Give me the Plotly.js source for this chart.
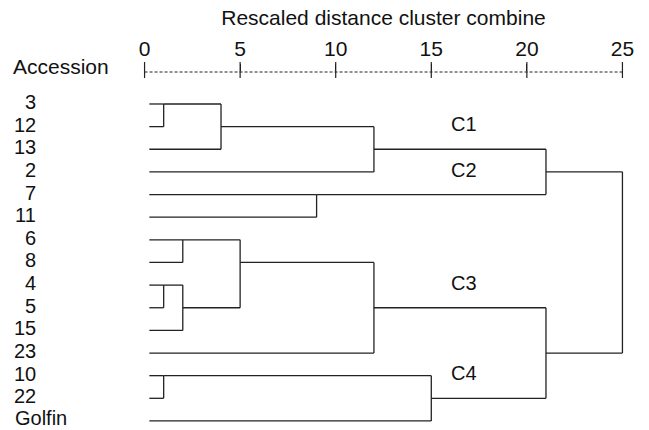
<!DOCTYPE html>
<html><head><meta charset="utf-8">
<script src="https://cdn.plot.ly/plotly-3.0.1.min.js"></script>
<style>html,body{margin:0;padding:0;background:#fff}#chart{width:649px;height:430px}</style>
</head><body><div id="chart"></div>
<script>
// ---- data ----
const leaves = ['3','12','13','2','7','11','6','8','4','5','15','23','10','22','Golfin'];
// agglomeration schedule: merge i creates node 'm'+(i+1)
const mergeA = ['3','4','10','6','m2','m1','m4','7','m6','m7','m3','m9','m10','m12'];
const mergeB = ['12','5','22','8','15','13','m5','11','2','23','Golfin','m8','m11','m13'];
const mergeHeight = [1,1,1,2,2,4,5,9,12,12,15,21,21,25];
const tickValues = [0,5,10,15,20,25];
const clusterNames = ['C1','C2','C3','C4'];
const clusterLeaf = ['12','2','4','10'];

// ---- build dendrogram ----
const FONT = 'Liberation Sans, Arial, Helvetica, sans-serif';
const FS = 21;
const LEAF_FS = 20;
const TXT = '#111';
const LINE = '#222';
const LEAF_START = 0.25;
const node = {};
leaves.forEach((l, i) => node[l] = {x: LEAF_START, y: i});
const xs = [], ys = [];
mergeHeight.forEach((h, i) => {
  const a = node[mergeA[i]], b = node[mergeB[i]];
  xs.push(a.x, h, null, b.x, h, null, h, h, null);
  ys.push(a.y, a.y, null, b.y, b.y, null, a.y, b.y, null);
  node['m' + (i + 1)] = {x: h, y: Math.floor((a.y + b.y) / 2)};
});

const W = 649, H = 430, L = 135, R = 17, T = 72, B = 0;
const pw = W - L - R;
const px2paper = p => (p - L) / pw;

const annotations = [];
leaves.forEach((l, i) => {
  const numeric = /^\d+$/.test(l);
  annotations.push({
    text: l, xref: 'paper', yref: 'y', y: i,
    x: numeric ? px2paper(38) : px2paper(13),
    xanchor: numeric ? 'right' : 'left', yanchor: 'middle',
    yshift: numeric ? 2 : 3,
    showarrow: false, font: {family: FONT, size: LEAF_FS, color: TXT}
  });
});
clusterNames.forEach((c, i) => {
  annotations.push({
    text: c, xref: 'x', yref: 'y', x: 16.7, y: leaves.indexOf(clusterLeaf[i]) - 0.1,
    xanchor: 'center', yanchor: 'middle', showarrow: false,
    font: {family: FONT, size: LEAF_FS, color: TXT}
  });
});
annotations.push({
  text: 'Accession', xref: 'paper', yref: 'paper', x: px2paper(11), y: 1,
  xanchor: 'left', yanchor: 'middle', yshift: 6, showarrow: false,
  font: {family: FONT, size: FS, color: TXT}
});

const shapes = [{
  type: 'line', xref: 'x', yref: 'paper', x0: tickValues[0], x1: tickValues[tickValues.length - 1],
  y0: 1, y1: 1, line: {color: LINE, width: 1, dash: '3px,2px'}
}];
tickValues.forEach(v => shapes.push({
  type: 'line', xref: 'x', yref: 'paper', ysizemode: 'pixel', yanchor: 1,
  x0: v, x1: v, y0: -6, y1: 10, line: {color: LINE, width: 1.2}
}));

const trace = {
  x: xs, y: ys, type: 'scatter', mode: 'lines',
  line: {color: LINE, width: 1.3}, hoverinfo: 'skip', connectgaps: false
};

const layout = {
  width: W, height: H,
  margin: {l: L, r: R, t: T, b: B, pad: 0},
  paper_bgcolor: '#fff', plot_bgcolor: '#fff',
  showlegend: false,
  font: {family: FONT, size: FS, color: TXT},
  xaxis: {
    side: 'top', range: [-0.5, 25.5], tickvals: tickValues, ticktext: tickValues.map(String),
    ticks: 'outside', ticklen: 7, tickwidth: 1.2, tickcolor: LINE,
    showline: false, showgrid: false, zeroline: false,
    tickfont: {family: FONT, size: FS, color: TXT},
    title: {text: 'Rescaled distance cluster combine', standoff: 5,
            font: {family: FONT, size: FS, color: TXT}}
  },
  yaxis: {
    range: [14.4, -1.413], showticklabels: false, ticks: '',
    showline: false, showgrid: false, zeroline: false
  },
  annotations, shapes
};

Plotly.newPlot('chart', [trace], layout, {displayModeBar: false, staticPlot: true});
</script></body></html>
